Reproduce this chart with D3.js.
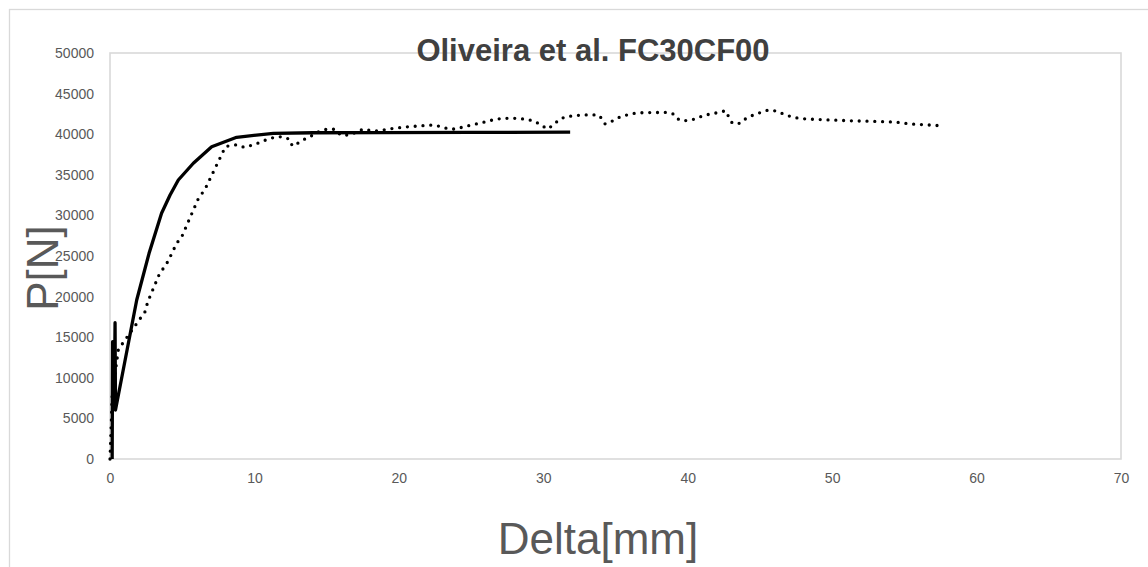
<!DOCTYPE html>
<html>
<head>
<meta charset="utf-8">
<script src="https://cdn.jsdelivr.net/npm/d3@7/dist/d3.min.js"></script>
<style>
  html, body { margin: 0; padding: 0; background: #fff; }
  svg { display: block; }
</style>
</head>
<body>
<svg id="chart" width="1148" height="567"></svg>
<script>
// Load-displacement data, Oliveira et al. specimen FC30CF00
const modelDelta = [0.15, 0.18, 0.30, 0.35, 0.38, 1.85, 2.7, 3.57, 4.16, 4.73, 5.77, 7.04, 8.77, 11.31, 14.07, 18.7, 25.0, 31.86];
const modelLoad  = [0, 14450, 6500, 16790, 6030, 19580, 25300, 30260, 32510, 34360, 36420, 38460, 39620, 40110, 40180, 40200, 40220, 40250];

const testDelta = [0, 0.05, 0.10, 0.15, 0.58, 0.9, 2.45, 2.6, 3.4, 4.0, 4.6, 5.0, 6.1, 6.6, 7.6, 8.0, 8.77, 9.3, 9.88, 10.4,
  10.9, 11.4, 11.95, 12.45, 12.62, 13.08, 13.57, 14.07, 14.54, 15.07, 15.58, 15.97, 16.5, 17.0, 17.54, 18.05, 18.5, 19.6, 20.7, 22.39,
  22.92, 23.43, 23.96, 24.52, 25.57, 26.66, 27.2, 28.27, 28.8, 29.36, 29.85, 30.28, 30.7, 31.11, 31.58, 32.66, 33.82, 34.1, 34.28, 34.79,
  35.27, 35.78, 36.31, 36.89, 38.55, 39.08, 39.4, 39.93, 40.51, 41.01, 41.55, 42.08, 42.63, 42.81, 43.09, 43.63, 44.04, 44.55, 45.06, 45.59,
  46.12, 46.63, 47.16, 47.71, 48.24, 51.0, 54.36, 55.4, 57.13, 57.66];
const testLoad = [0, 2500, 5000, 7900, 13500, 14300, 18200, 19300, 22700, 24300, 26500, 27500, 32000, 33300, 37000, 38500, 38700, 38380, 38670, 39000,
  39370, 39620, 39700, 39370, 38550, 38960, 39490, 39900, 40390, 40640, 40600, 39900, 39900, 40200, 40640, 40430, 40390, 40720, 40930, 41130,
  40930, 40640, 40640, 40930, 41340, 41830, 41950, 41950, 41830, 41630, 41130, 40640, 41130, 41830, 42160, 42370, 42370, 41830, 41260, 41630,
  42080, 42370, 42570, 42650, 42690, 42450, 41750, 41670, 41870, 42240, 42490, 42650, 42900, 42240, 41340, 41340, 41950, 42370, 42690, 42980,
  42860, 42490, 42160, 41950, 41870, 41670, 41500, 41260, 41090, 41010];

const xTicks = [0, 10, 20, 30, 40, 50, 60, 70];
const yTicks = [0, 5000, 10000, 15000, 20000, 25000, 30000, 35000, 40000, 45000, 50000];

const titleText = "Oliveira et al. FC30CF00";
const xTitle = "Delta[mm]";
const yTitle = "P[N]";

const svg = d3.select("#chart");
const W = 1148, H = 567;
const plot = { left: 110, right: 1121, top: 53, bottom: 459 };

const x = d3.scaleLinear().domain([0, 70]).range([plot.left, plot.right]);
const y = d3.scaleLinear().domain([0, 50000]).range([plot.bottom, plot.top]);

const gray = "#d9d9d9";
const labelColor = "#595959";
const font = "'Liberation Sans', Arial, sans-serif";

// chart area outline
svg.append("rect")
  .attr("x", 9.5).attr("y", 9.5)
  .attr("width", W + 20).attr("height", H + 20)
  .attr("fill", "#fff").attr("stroke", gray).attr("stroke-width", 1.3);

// plot area outline
svg.append("rect")
  .attr("x", x(0)).attr("y", y(50000))
  .attr("width", x(70) - x(0)).attr("height", y(0) - y(50000))
  .attr("fill", "none").attr("stroke", gray).attr("stroke-width", 1.6);

// axes (labels only; lines come from the plot outline)
const xAxis = d3.axisBottom(x).tickValues(xTicks).tickSize(0).tickPadding(0).tickFormat(d3.format("d"));
const gx = svg.append("g").attr("transform", `translate(0,${plot.bottom})`).call(xAxis);
gx.select(".domain").remove();
gx.selectAll("text")
  .attr("dy", null).attr("y", 24)
  .attr("fill", labelColor)
  .style("font-family", font)
  .style("font-size", "14px");

const yAxis = d3.axisLeft(y).tickValues(yTicks).tickSize(0).tickPadding(16).tickFormat(d3.format("d"));
const gy = svg.append("g").attr("transform", `translate(${plot.left},0)`).call(yAxis);
gy.select(".domain").remove();
gy.selectAll("text")
  .attr("fill", labelColor)
  .style("font-family", font)
  .style("font-size", "14px");

// series
const line = d3.line().x(d => x(d[0])).y(d => y(d[1]));
const testPts = testDelta.map((d, i) => [d, testLoad[i]]);
const modelPts = modelDelta.map((d, i) => [d, modelLoad[i]]);

svg.append("path")
  .datum(testPts)
  .attr("d", line)
  .attr("fill", "none")
  .attr("stroke", "#000")
  .attr("stroke-width", 3.3)
  .attr("stroke-linecap", "round")
  .attr("stroke-linejoin", "round")
  .attr("stroke-dasharray", "0 7.8");

svg.append("path")
  .datum(modelPts)
  .attr("d", d3.line().x(d => x(d[0])).y(d => y(d[1])))
  .attr("fill", "none")
  .attr("stroke", "#000")
  .attr("stroke-width", 3.3)
  .attr("stroke-linejoin", "round");

// titles
svg.append("text")
  .attr("x", 593).attr("y", 61)
  .attr("text-anchor", "middle")
  .attr("fill", "#404040")
  .style("font-family", font)
  .style("font-weight", "bold")
  .style("font-size", "31px")
  .text(titleText);

svg.append("text")
  .attr("x", 598).attr("y", 554)
  .attr("text-anchor", "middle")
  .attr("fill", labelColor)
  .style("font-family", font)
  .style("font-size", "44px")
  .text(xTitle);

svg.append("text")
  .attr("transform", "translate(58,268) rotate(-90)")
  .attr("text-anchor", "middle")
  .attr("fill", labelColor)
  .style("font-family", font)
  .style("font-size", "44px")
  .text(yTitle);
</script>
</body>
</html>
